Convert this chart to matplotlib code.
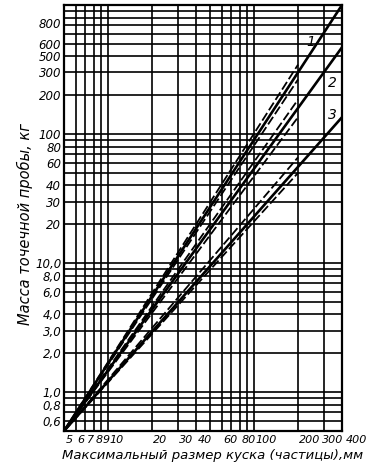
import numpy as np
import matplotlib
matplotlib.use('Agg')
import matplotlib.pyplot as plt

# размеры куска, мм (ось x)
x_start = 5
x_end = 400
x_dash_end = 200

# масса пробы, кг: начало всех линий и концы сплошных линий при 400 мм
y_start = 0.5
solid_end = [1000, 470, 135]
# пунктирные линии: значения при 200 мм (верхняя, нижняя) для каждой кривой
dash_upper = [345, 185, 66]
dash_lower = [265, 135, 50]

curve_labels = ['1', '2', '3']
label_x = [245, 342, 342]
label_y = [520, 250, 140]

x_ticks = [5, 6, 7, 8, 9, 10, 20, 30, 40, 60, 80, 100, 200, 300, 400]
x_tick_labels = ['5', '6', '7', '8', '9', '10', '20', '30', '40', '60', '80',
                 '100', '200', '300', '400']
# подписи оси y стоят там, где они напечатаны в оригинале
y_tick_pos = [0.6, 0.8, 1, 2, 3, 4, 6, 8, 10, 20, 30, 40, 60, 80, 100,
              200, 300, 400, 500, 720]
y_tick_labels = ['0,6', '0,8', '1,0', '2,0', '3,0', '4,0', '6,0', '8,0', '10,0',
                 '20', '30', '40', '60', '80', '100', '200', '300', '500',
                 '600', '800']

x_grid = [5, 6, 7, 8, 9, 10, 20, 30, 40, 50, 60, 70, 80, 90, 100, 200, 300, 400]
y_grid = [0.6, 0.7, 0.8, 0.9, 1, 2, 3, 4, 5, 6, 7, 8, 9, 10, 20, 30, 40, 50,
          60, 70, 80, 90, 100, 200, 300, 400, 500, 600, 700, 800, 900, 1000]

fig = plt.figure(figsize=(3.83, 4.74), dpi=100)
ax = fig.add_axes([64 / 383, 1 - 431 / 474, 278 / 383, 426 / 474])
ax.set_xscale('log')
ax.set_yscale('log')
ax.set_xlim(x_start, x_end)
ax.set_ylim(y_start, 1000)

# сетка
for gx in x_grid:
    ax.axvline(gx, color='black', lw=1.2, zorder=1)
for gy in y_grid:
    ax.axhline(gy, color='black', lw=1.2, zorder=1)

# сплошные линии
for y1 in solid_end:
    ax.plot([x_start, x_end], [y_start, y1], color='black', lw=1.9, zorder=3)

# пунктирные линии
for yu, yl in zip(dash_upper, dash_lower):
    for yd in (yu, yl):
        ax.plot([x_start, x_dash_end], [y_start, yd], color='black', lw=1.3,
                dashes=(5, 1.8), zorder=3)

for t, lx, ly in zip(curve_labels, label_x, label_y):
    ax.text(lx, ly, t, fontsize=10, style='italic', ha='center', va='center',
            zorder=4)

ax.xaxis.set_minor_locator(matplotlib.ticker.NullLocator())
ax.yaxis.set_minor_locator(matplotlib.ticker.NullLocator())
ax.set_xticks(x_ticks)
ax.set_xticklabels([])
# подписи x ставлю вручную: слева от линии сетки, как в оригинале
trans = ax.get_xaxis_transform()
for xv, lab in zip(x_ticks, x_tick_labels):
    dx = 1
    if lab == '300':
        dx = -1
    if lab == '400':
        dx = 3
    ax.annotate(lab, (xv, 0), xycoords=trans, xytext=(dx, -3),
                textcoords='offset points', ha='left', va='top',
                fontsize=8, style='italic', annotation_clip=False)
ax.set_yticks(y_tick_pos)
ax.set_yticklabels(y_tick_labels, fontsize=8.5, style='italic')
ax.tick_params(length=0, pad=2)

for sp in ax.spines.values():
    sp.set_linewidth(1.6)

fig.text(213 / 383, 1 - 456 / 474, 'Максимальный размер куска (частицы),мм',
         fontsize=9.5, style='italic', ha='center', va='center')
fig.text(25 / 383, 1 - 224 / 474, 'Масса точечной пробы, кг',
         fontsize=10.5, style='italic', ha='center', va='center', rotation=90)

fig.savefig('out.png', dpi=100)
